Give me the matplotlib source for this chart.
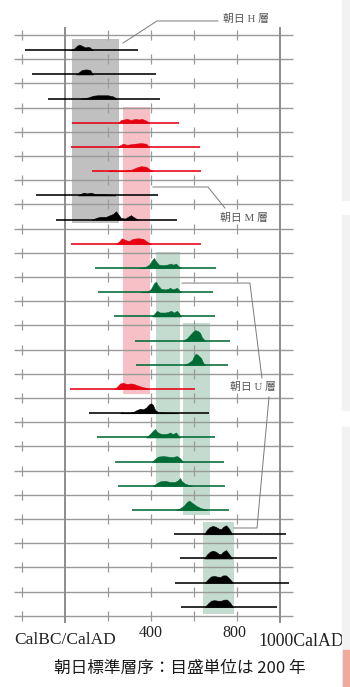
import matplotlib
matplotlib.use("Agg")
import matplotlib.pyplot as plt
from matplotlib.patches import Rectangle
import matplotlib.transforms as mtrans
import numpy as np

# ---------------- data ----------------
tick_years = [-200, 0, 200, 400, 600, 800, 1000]
major_years = [0, 1000]
n_rows = 24

sample_start = [-186, -153, -79, 33, 28, 126, -135, -42, 28, 140, 153, 228,
                326, 330, 23, 112, 149, 233, 247, 312, 507, 535, 512, 540]
sample_end = [340, 423, 442, 530, 628, 633, 433, 521, 633, 702, 688, 698,
              767, 758, 605, 670, 698, 740, 744, 763, 1028, 986, 1042, 986]
sample_color = ["k", "k", "k", "r", "r", "r", "k", "k", "r", "g", "g", "g",
                "g", "g", "r", "k", "g", "g", "g", "g", "k", "k", "k", "k"]

dens_years = [
    [23, 42, 56, 65, 79, 93, 107, 116, 130],
    [51, 65, 79, 98, 116, 130],
    [70, 107, 130, 149, 200, 223, 242],
    [247, 260, 274, 288, 307, 326, 344, 358, 377, 391],
    [242, 256, 270, 288, 307, 326, 353, 377, 391],
    [200, 219, 237, 279, 312, 335, 353, 377, 395, 409],
    [60, 74, 88, 102, 121, 140, 186, 219, 233],
    [126, 144, 163, 191, 209, 223, 237, 247, 260, 279, 293, 307, 321, 340],
    [237, 251, 265, 279, 298, 316, 340, 363, 381, 400],
    [340, 372, 391, 405, 414, 423, 437, 456, 474, 493, 502, 516, 526, 540],
    [349, 386, 400, 414, 423, 433, 447, 465, 479, 488, 502, 521, 530, 540],
    [405, 419, 428, 442, 465, 479, 493, 507, 521, 530, 540],
    [549, 567, 581, 595, 605, 619, 628, 637, 651],
    [553, 572, 591, 600, 609, 623, 633, 642, 651],
    [228, 242, 256, 270, 288, 307, 321, 340, 358, 377, 391],
    [256, 265, 279, 302, 321, 335, 349, 363, 377, 391, 400, 409, 419, 433, 465, 498, 526],
    [377, 395, 409, 419, 428, 442, 460, 479, 488, 502, 516, 526, 535],
    [405, 419, 433, 456, 479, 498, 521, 535, 549],
    [409, 428, 442, 465, 488, 512, 526, 535, 544, 558, 572, 591],
    [516, 535, 553, 567, 577, 591, 609, 628, 647, 665],
    [647, 660, 674, 688, 702, 716, 726, 735, 749, 763, 777],
    [647, 660, 674, 688, 702, 716, 726, 735, 749, 763, 777],
    [651, 665, 679, 693, 707, 721, 735, 749, 763, 781],
    [651, 665, 679, 693, 712, 726, 740, 753, 767, 781],
]
dens_heights = [
    [0, 1.5, 4, 5, 4, 2.5, 3, 2.5, 0],
    [0, 2, 4, 4.5, 4, 0],
    [0, 1, 2.5, 3, 3, 2, 0],
    [0, 2.5, 3, 3.5, 2.5, 3.5, 3, 3.5, 2, 0],
    [0, 1.5, 3, 2, 2.5, 3, 3.5, 3, 0],
    [0, 1, 0.3, 0.5, 1.5, 3.5, 4.5, 4, 1.5, 0],
    [0, 1.5, 2.5, 1.8, 2.5, 1.2, 1, 0.5, 0],
    [0, 1.5, 2.5, 2.5, 4, 5, 7.5, 5, 1.5, 1, 2.5, 4, 2, 0],
    [0, 2, 5, 3.5, 2.5, 4.5, 5, 4.5, 2, 0],
    [0, 0.8, 3, 7, 9, 6, 3, 2.5, 3, 4, 3, 4, 2, 0],
    [0, 0.8, 3, 8, 9.5, 6, 3, 2.5, 3, 4, 2.5, 4, 2, 0],
    [0, 3, 5, 3.5, 3.5, 4, 5, 3.5, 5, 3, 0],
    [0, 2, 5, 8, 9.5, 8.5, 7, 3, 0],
    [0, 1.5, 4, 8, 10, 8, 6, 2, 0],
    [0, 2, 5, 5.5, 4.5, 5, 4.5, 3, 2, 1, 0],
    [0, 1, 0.3, 0.5, 1.5, 3, 4, 3.5, 5, 8, 9, 7.5, 3, 1, 0.7, 0.5, 0],
    [0, 3, 6, 7.5, 5, 3.5, 3, 3.5, 4.5, 3, 4.5, 2, 0],
    [0, 2.5, 4.5, 5, 4.5, 4, 5, 3, 0],
    [0, 2.5, 4, 4.5, 3.5, 3.5, 5, 7, 4, 2, 1, 0],
    [0, 1.5, 4, 7, 8.5, 6.5, 4, 2, 1, 0],
    [0, 4, 6.5, 7.5, 6.5, 5, 4.5, 6.5, 8, 5, 0],
    [0, 3.5, 6, 7, 6, 4, 4, 6, 7.5, 4, 0],
    [0, 3, 5.5, 6, 5.5, 5, 6.5, 6.5, 4, 0],
    [0, 3, 5.5, 6, 5.5, 5.5, 6.5, 6.5, 4, 0],
]

phase_start = [33, 270, 423, 549, 642]
phase_end = [251, 395, 535, 674, 786]
phase_top = [0.17, 2.98, 8.97, 11.9, 20.12]
phase_bottom = [7.77, 14.83, 18.6, 19.83, 23.93]
phase_color = ["#c0c0c0", "#f6c0c6", "#c3dccf", "#c3dccf", "#c3dccf"]

color_map = {"k": "#000000", "r": "#e60012", "g": "#006b35"}

# ---------------- figure ----------------
fig = plt.figure(figsize=(3.5, 6.87), dpi=100)
ax = fig.add_axes([0, 0, 1, 1])
ax.set_xlim(-302.3, 1325.6)
ax.set_ylim(26.94, -1.446)
ax.axis("off")

# right-edge page artefacts
for (y0, y1, c) in [(487, 687, "#f2f2f2"), (277, 472, "#f2f2f2"), (0, 260, "#f2f2f2")]:
    fig.patches.append(Rectangle((342 / 350, y0 / 687), 8 / 350, (y1 - y0) / 687,
                                 transform=fig.transFigure, color=c, zorder=0))
fig.patches.append(Rectangle((343 / 350, 0), 7 / 350, 37 / 687,
                             transform=fig.transFigure, color="#eeaa9e", zorder=0))

# phase boxes
for s, e, t, b, c in zip(phase_start, phase_end, phase_top, phase_bottom, phase_color):
    ax.add_patch(Rectangle((s, t), e - s, b - t, facecolor=c, edgecolor="none", zorder=1))

# grid
grid_c = "#9a9a9a"
for k in range(n_rows + 1):
    ax.plot([-237, 1060], [k, k], color=grid_c, lw=1.0, zorder=2, solid_capstyle="butt")
for yv in major_years:
    ax.plot([yv, yv], [-0.29, 24.26], color="#8c8c8c", lw=1.4, zorder=2)
for tx in tick_years:
    if tx in major_years:
        continue
    ax.plot([tx] * (n_rows + 1), np.arange(n_rows + 1), ls="none", marker="|",
            ms=6.5, mew=0.9, color=grid_c, zorder=2)

# samples
scale = 1.12 / 24.2
for i in range(n_rows):
    base = i + 0.63
    c = color_map[sample_color[i]]
    ax.plot([sample_start[i], sample_end[i]], [base, base], color=c, lw=1.15,
            zorder=4, solid_capstyle="butt")
    xs = np.array(dens_years[i])
    hs = np.array(dens_heights[i]) * scale
    ax.fill_between(xs, base, base - hs, color=c, lw=0.4, zorder=4)

# annotations
lead_c = "#7a7a7a"
ann_font = ["Liberation Serif", "Noto Sans CJK JP"]
ax.plot([270, 428, 712], [0.33, -0.58, -0.58], color=lead_c, lw=0.7, zorder=5)
ax.text(735, -0.66, "朝日 H 層", family=ann_font, fontsize=7.8, color="#555555",
        va="center", ha="left")
ax.plot([409, 665, 744], [6.28, 6.28, 7.15], color=lead_c, lw=0.7, zorder=5)
ax.text(721, 7.56, "朝日 M 層", family=ann_font, fontsize=7.8, color="#555555",
        va="center", ha="left")
ax.plot([544, 860, 916], [10.25, 10.25, 14.17], color=lead_c, lw=0.7, zorder=5)
ax.plot([949, 893, 786], [14.96, 20.37, 20.37], color=lead_c, lw=0.7, zorder=5)
ax.text(767, 14.55, "朝日 U 層", family=ann_font, fontsize=7.8, color="#555555",
        va="center", ha="left")

# axis labels
serif = ["Liberation Serif", "DejaVu Serif"]
ax.text(0, 25.0, "CalBC/CalAD", family=serif, fontsize=12.5, ha="center",
        va="center", color="#222222")
ax.text(400, 24.72, "400", family=serif, fontsize=11.5, ha="center", va="center",
        color="#222222")
ax.text(790, 24.72, "800", family=serif, fontsize=11.5, ha="center", va="center",
        color="#222222")
off = mtrans.offset_copy(ax.transData, fig=fig, x=-22, y=0, units="dots")
ax.text(1000, 25.04, "1000CalAD", family=serif, fontsize=12.8, ha="left",
        va="center", color="#222222", transform=off)

ax.text(1.0 * (180 - 65) * 200 / 43, 26.16, "朝日標準層序：目盛単位は 200 年",
        family=["Noto Sans CJK JP", "DejaVu Sans"], fontsize=12, ha="center",
        va="center", color="#1a1a1a")

fig.savefig("out.png", dpi=100)
